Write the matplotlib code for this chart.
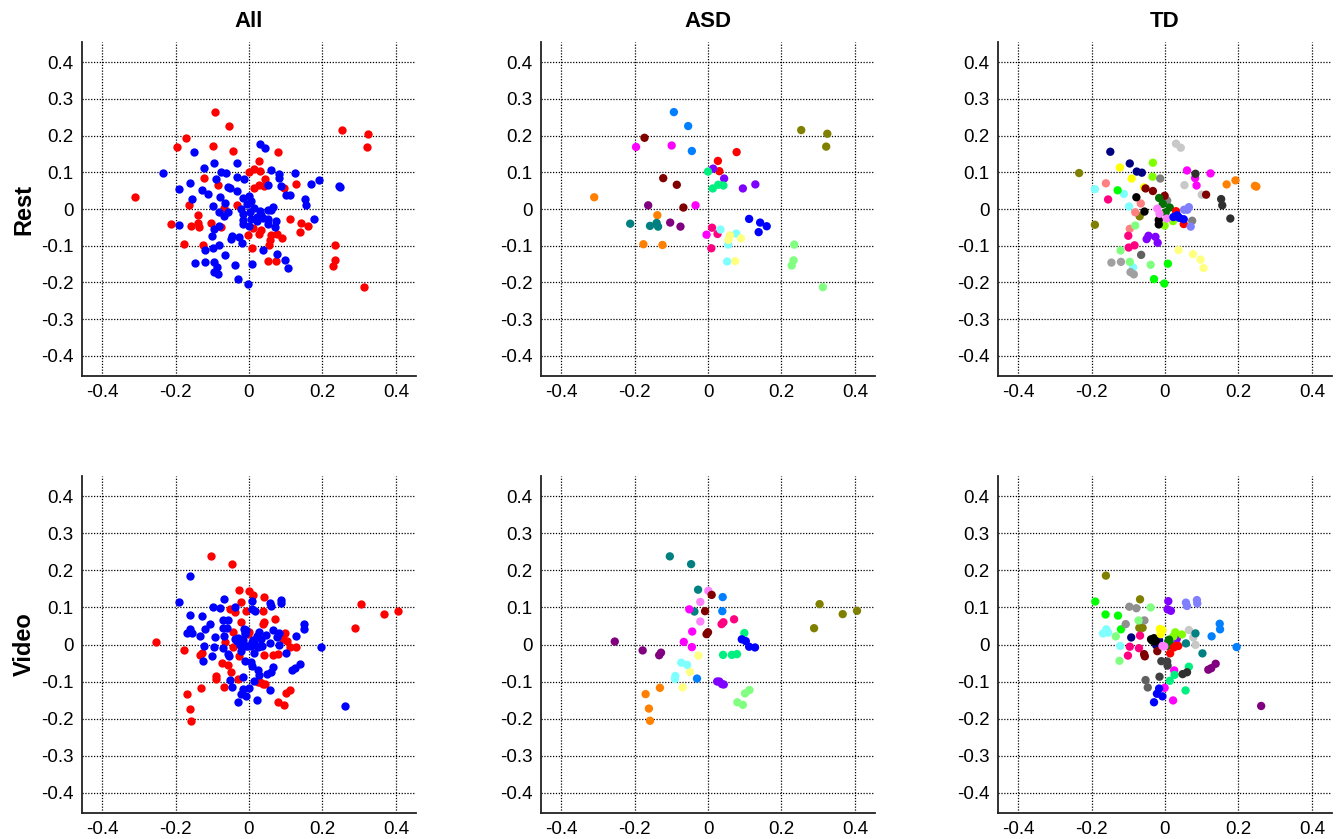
import matplotlib
matplotlib.use("Agg")
import matplotlib.pyplot as plt

plt.rcParams["font.family"] = ["Liberation Sans", "DejaVu Sans"]

# ---- ASD, rest: one id per subject, colours come from asd_rest_colors
asd_rest_x = [-0.31, -0.138, -0.176, -0.124,
              -0.093, -0.054, -0.044,
              -0.173, -0.122, -0.085, -0.067,
              -0.196, -0.099, -0.034, -0.004,
              0.254, 0.325, 0.322,
              0.078, 0.027, 0.031,
              0.014, 0.044, 0.095, 0.129,
              0.0, 0.013, 0.028, 0.042,
              -0.163, -0.103, -0.075,
              -0.212, -0.158, -0.140, -0.136,
              0.112, 0.142, 0.160, 0.138,
              0.011, 0.026, 0.009,
              0.034, 0.055, 0.052, 0.077,
              0.060, 0.090, 0.074, 0.056,
              0.235, 0.233, 0.228, 0.313]
asd_rest_y = [0.032, -0.017, -0.096, -0.098,
              0.264, 0.226, 0.158,
              0.194, 0.084, 0.066, 0.004,
              0.169, 0.173, 0.010, -0.070,
              0.215, 0.205, 0.170,
              0.155, 0.131, 0.103,
              0.110, 0.083, 0.056, 0.067,
              0.102, 0.056, 0.066, 0.064,
              0.010, -0.037, -0.048,
              -0.040, -0.046, -0.038, -0.048,
              -0.027, -0.037, -0.047, -0.063,
              -0.051, -0.068, -0.107,
              -0.056, -0.097, -0.143, -0.067,
              -0.072, -0.080, -0.142, -0.084,
              -0.097, -0.140, -0.154, -0.213]
asd_rest_subj = [0] * 4 + [1] * 3 + [2] * 4 + [3] * 4 + [4] * 3 + [5] * 3 + [6] * 4 + [7] * 4 \
    + [8] * 3 + [9] * 4 + [10] * 4 + [11] * 3 + [12] * 4 + [13] * 4 + [14] * 4
asd_rest_colors = ["#FF8000", "#0080FF", "#800000", "#FF00FF", "#808000", "#FF0000",
                   "#8000FF", "#00F080", "#800080", "#008080", "#0000FF", "#FF0080",
                   "#80FFFF", "#FFFF80", "#80FF80"]

# ---- ASD, video
asd_video_x = [-0.104, -0.046, -0.027, -0.037,
               0.001, -0.021, -0.021,
               0.010, -0.008, -0.004, 0.0,
               0.040, 0.039, -0.030,
               -0.051, -0.043, -0.066, -0.044,
               0.037, 0.042, 0.071,
               0.099, 0.041, 0.065, 0.079,
               0.092, 0.103, 0.112, 0.128,
               0.289, 0.304, 0.367, 0.406,
               -0.254, -0.178, -0.133, -0.128,
               -0.026, -0.049, -0.069,
               -0.073, -0.057, -0.089, -0.090,
               0.025, 0.031, 0.038, 0.043,
               0.080, 0.095, 0.101, 0.113,
               -0.170, -0.131, -0.161, -0.158]
asd_video_y = [0.238, 0.217, 0.148, 0.089,
               0.145, 0.115, 0.062,
               0.134, 0.090, 0.028, 0.033,
               0.128, 0.090, -0.092,
               0.095, 0.035, 0.007, -0.007,
               0.055, 0.060, 0.068,
               0.031, -0.028, -0.028, -0.026,
               0.014, 0.009, -0.006, -0.008,
               0.044, 0.109, 0.082, 0.091,
               0.008, -0.016, -0.029, -0.022,
               -0.030, -0.074, -0.116,
               -0.049, -0.055, -0.085, -0.093,
               -0.100, -0.100, -0.107, -0.108,
               -0.156, -0.163, -0.132, -0.123,
               -0.134, -0.117, -0.173, -0.206]
asd_video_subj = [0] * 4 + [1] * 3 + [2] * 4 + [3] * 3 + [4] * 4 + [5] * 3 + [6] * 4 + [7] * 4 \
    + [8] * 4 + [9] * 4 + [10] * 3 + [11] * 4 + [12] * 4 + [13] * 4 + [14] * 4
asd_video_colors = ["#008080", "#FF80FF", "#800000", "#0080FF", "#FF00FF", "#FF0080",
                    "#00F080", "#0000FF", "#808000", "#800080", "#FFFF80", "#80FFFF",
                    "#8000FF", "#80FF80", "#FF8000"]

# ---- TD, rest
td_rest_x = [-0.234, -0.191, -0.069,
             -0.149, -0.096, -0.077, -0.063,
             -0.123, -0.091, -0.057,
             -0.033, -0.034, -0.001, 0.022,
             -0.013, 0.006, 0.074,
             0.030, 0.043, 0.053, 0.100,
             0.060, 0.124, 0.082, 0.086,
             0.083, 0.153, 0.156, 0.178,
             0.168, 0.192, 0.245, 0.249,
             -0.053, -0.033, -0.001, 0.112,
             -0.161, -0.066, -0.081, -0.096,
             -0.191, -0.112, -0.098, -0.087,
             -0.129, -0.030, -0.002, 0.008,
             -0.155, -0.100, -0.099, -0.083,
             -0.078, -0.056, -0.017, -0.017,
             -0.016, -0.006, 0.002, 0.013,
             -0.021, -0.015, 0.005,
             0.030, 0.051,
             0.023, 0.039, 0.051, 0.033,
             0.052, 0.065, 0.070, 0.061,
             -0.045, -0.026, -0.020, -0.050,
             -0.081, -0.121, -0.096, -0.039,
             -0.065,
             -0.146, -0.120, -0.094, -0.085,
             0.037, 0.076, 0.097, 0.105]
td_rest_y = [0.098, -0.043, -0.020,
             0.156, 0.124, 0.102, 0.099,
             0.113, 0.083, 0.059,
             0.126, 0.088, -0.045, -0.033,
             0.083, 0.023, -0.032,
             0.178, 0.167, 0.065, 0.039,
             0.105, 0.097, 0.084, 0.064,
             0.096, 0.027, 0.010, -0.026,
             0.067, 0.078, 0.063, 0.061,
             0.056, 0.049, 0.036, 0.039,
             0.070, 0.015, -0.009, -0.054,
             0.054, 0.041, 0.007, -0.159,
             0.051, -0.191, -0.203, -0.149,
             0.026, -0.073, -0.105, -0.099,
             0.032, -0.007, -0.030, -0.042,
             0.030, 0.014, -0.009, 0.004,
             0.001, -0.013, -0.026,
             -0.006, -0.041,
             -0.022, -0.024, -0.028, -0.017,
             -0.002, 0.005, -0.048, -0.002,
             -0.073, -0.076, -0.092, -0.082,
             -0.045, -0.113, -0.144, -0.152,
             -0.125,
             -0.146, -0.144, -0.172, -0.178,
             -0.112, -0.123, -0.138, -0.161]
td_rest_subj = [0] * 3 + [1] * 4 + [2] * 3 + [3] * 4 + [4] * 3 + [5] * 4 + [6] * 4 + [7] * 4 \
    + [8] * 4 + [9] * 4 + [10] * 4 + [11] * 4 + [12] * 4 + [13] * 4 + [14] * 4 + [15] * 4 \
    + [16] * 3 + [17] * 2 + [18] * 4 + [19] * 4 + [20] * 4 + [21] * 4 + [22] * 1 + [23] * 4 \
    + [24] * 4
td_rest_colors = ["#808000", "#000080", "#FFFF00", "#80FF00", "#808080", "#C8C8C8",
                  "#FF00FF", "#303030", "#FF8000", "#800000", "#FF8080", "#80FFFF",
                  "#00FF00", "#FF0080", "#000000", "#007000", "#FF80FF", "#FF0000",
                  "#0000FF", "#8080FF", "#8000FF", "#80FF80", "#606060", "#A0A0A0",
                  "#FFFF80"]

# ---- TD, video
td_video_x = [-0.161, -0.068, -0.070, -0.061,
              -0.190, -0.162, -0.128, -0.120,
              -0.097, -0.078, -0.107, -0.056,
              -0.039, -0.072, -0.134, -0.124,
              -0.160, -0.169, -0.155, -0.122,
              -0.092, -0.024, -0.016,
              -0.068, -0.096, -0.071, -0.101,
              -0.057, -0.055, -0.021,
              -0.038, -0.030, -0.034, -0.025,
              -0.014, -0.010, -0.007, -0.012,
              0.009, 0.007, 0.016, 0.032,
              0.057, 0.060, 0.087, 0.088,
              0.028, 0.046, 0.023,
              0.011, 0.013, 0.006, 0.009,
              0.014, 0.024, 0.036, 0.030,
              -0.007, -0.002,
              0.065, 0.077, 0.083,
              0.083, 0.057, 0.102,
              0.149, 0.150, 0.127, 0.195,
              -0.010, 0.006, 0.007, -0.015,
              -0.053, -0.047,
              0.025, -0.001, 0.022,
              0.065, 0.026, 0.013, 0.056,
              0.048, 0.060,
              -0.016, -0.022, -0.030, -0.007,
              0.118, 0.126, 0.138, 0.262]
td_video_y = [0.186, 0.122, 0.045, 0.045,
              0.116, 0.081, 0.078, 0.041,
              0.102, 0.098, 0.055, 0.065,
              0.100, 0.065, 0.022, -0.044,
              0.041, 0.030, 0.032, -0.004,
              0.019, -0.002, 0.011,
              0.024, -0.006, -0.010, -0.030,
              -0.026, -0.032, -0.018,
              0.014, 0.017, 0.010, 0.008,
              0.042, 0.034, 0.039, 0.028,
              0.117, 0.095, 0.091, 0.015,
              0.113, 0.104, 0.120, 0.111,
              0.033, 0.027, 0.022,
              0.013, 0.003, -0.004, 0.008,
              -0.024, -0.008, -0.004, -0.004,
              -0.004, -0.005,
              0.039, 0.019, -0.001,
              0.030, 0.003, -0.024,
              0.056, 0.041, 0.022, -0.007,
              -0.045, -0.046, -0.057, -0.087,
              -0.096, -0.116,
              -0.070, -0.117, -0.151,
              -0.060, -0.082, -0.098, -0.124,
              -0.080, -0.075,
              -0.119, -0.133, -0.156, -0.140,
              -0.068, -0.064, -0.052, -0.166]
td_video_subj = [0] * 4 + [1] * 4 + [2] * 4 + [3] * 4 + [4] * 4 + [5] * 3 + [6] * 4 + [7] * 3 \
    + [8] * 4 + [9] * 4 + [10] * 4 + [11] * 4 + [12] * 3 + [13] * 4 + [14] * 4 + [15] * 2 \
    + [16] * 3 + [17] * 3 + [18] * 4 + [19] * 4 + [20] * 2 + [21] * 3 + [22] * 4 + [23] * 2 \
    + [24] * 4 + [25] * 4
td_video_colors = ["#808000", "#00FF00", "#909090", "#80FF80", "#80FFFF", "#000080",
                   "#FF0080", "#800000", "#000000", "#FFFF00", "#8000FF", "#8080FF",
                   "#80FF00", "#007000", "#FF0000", "#FF80FF", "#C8C8C8", "#008080",
                   "#0080FF", "#404040", "#606060", "#FF00FF", "#00F080", "#303030",
                   "#0000FF", "#800080"]

col_titles = ["All", "ASD", "TD"]
row_titles = ["Rest", "Video"]
ticks_x = [-0.4, -0.2, 0, 0.2, 0.4]
ticks_y = [-0.4, -0.3, -0.2, -0.1, 0, 0.1, 0.2, 0.3, 0.4]


def fmt(v):
    return "0" if abs(v) < 1e-9 else f"{v:g}"


def style_axes(ax):
    ax.set_xlim(-0.455, 0.455)
    ax.set_ylim(-0.455, 0.455)
    ax.set_xticks(ticks_x)
    ax.set_yticks(ticks_y)
    ax.set_xticklabels([fmt(v) for v in ticks_x])
    ax.set_yticklabels([fmt(v) for v in ticks_y])
    ax.tick_params(length=0, labelsize=13.5, pad=6)
    ax.grid(True, color="black", linestyle=(0, (1, 1.3)), linewidth=0.9)
    ax.set_axisbelow(True)
    for side in ("top", "right"):
        ax.spines[side].set_visible(False)
    for side in ("left", "bottom"):
        ax.spines[side].set_linewidth(1.3)
        ax.spines[side].set_color("#222222")


fig = plt.figure(figsize=(13.41, 8.39), dpi=100)
W, H = 1341.0, 839.0
lefts = [82, 541, 998]
bottoms = [376, 813]
tops = [42, 476]
axes = [[None] * 3 for _ in range(2)]
for r in range(2):
    for c in range(3):
        axes[r][c] = fig.add_axes([lefts[c] / W, 1 - bottoms[r] / H,
                                   334 / W, (bottoms[r] - tops[r]) / H])

panels = [
    (asd_rest_x, asd_rest_y, asd_rest_subj, asd_rest_colors,
     td_rest_x, td_rest_y, td_rest_subj, td_rest_colors),
    (asd_video_x, asd_video_y, asd_video_subj, asd_video_colors,
     td_video_x, td_video_y, td_video_subj, td_video_colors),
]

ms = 36
for r, (ax_, ay_, as_, ac_, tx_, ty_, ts_, tc_) in enumerate(panels):
    # all subjects: ASD red, TD blue
    ax0 = axes[r][0]
    ax0.scatter(ax_, ay_, s=ms, color="#FF0000", linewidths=0, zorder=3)
    ax0.scatter(tx_, ty_, s=ms, color="#0000FF", linewidths=0, zorder=3)
    # one colour per subject
    axes[r][1].scatter(ax_, ay_, s=ms, c=[ac_[i] for i in as_], linewidths=0, zorder=3)
    axes[r][2].scatter(tx_, ty_, s=ms, c=[tc_[i] for i in ts_], linewidths=0, zorder=3)

for r in range(2):
    for c in range(3):
        style_axes(axes[r][c])
    axes[r][0].set_ylabel(row_titles[r], fontsize=17, fontweight="bold", labelpad=4)
for c in range(3):
    axes[0][c].set_title(col_titles[c], fontsize=16, fontweight="bold", pad=11)

fig.savefig("out.png", dpi=100)
